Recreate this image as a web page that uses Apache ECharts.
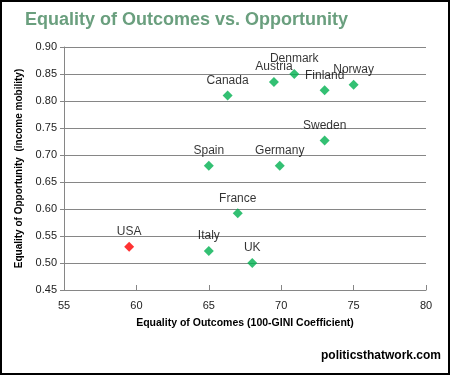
<!DOCTYPE html>
<html>
<head>
<meta charset="utf-8">
<script src="https://cdn.jsdelivr.net/npm/echarts@6/dist/echarts.min.js"></script>
<style>
  html, body { margin: 0; padding: 0; background: #fff; }
  #chart { width: 450px; height: 375px; }
</style>
</head>
<body>
<div id="chart"></div>
<script>
  // country, equality of outcomes (100-GINI), equality of opportunity
  const countries = ['Canada', 'Austria', 'Denmark', 'Finland', 'Norway', 'Sweden',
                     'Spain', 'Germany', 'France', 'Italy', 'UK']
  const outcomes = [66.3, 69.5, 70.9, 73, 75, 73, 65, 69.9, 67, 65, 68]
  const opportunity = [0.81, 0.835, 0.85, 0.82, 0.83, 0.727, 0.68, 0.68, 0.592, 0.522, 0.50]
  const usa = { name: 'USA', x: 59.5, y: 0.53 }

  const chart = echarts.init(document.getElementById('chart'))
  const font = 'Liberation Sans, Arial, sans-serif'
  const gridColor = '#868686'

  const option = {
    animation: false,
    title: {
      text: 'Equality of Outcomes vs. Opportunity',
      left: 20,
      top: 6,
      textStyle: { color: '#6a9f7e', fontSize: 18, fontWeight: 'bold', fontFamily: font }
    },
    graphic: [
      {
        type: 'rect',
        shape: { x: 1, y: 1, width: 448, height: 373 },
        style: { fill: 'none', stroke: '#000', lineWidth: 2 }
      },
      {
        type: 'text',
        right: 9,
        top: 350,
        style: { text: 'politicsthatwork.com', fill: '#000', font: 'bold 12px ' + font }
      }
    ],
    grid: { left: 64, right: 24, top: 47, bottom: 85 },
    xAxis: {
      type: 'value',
      min: 55, max: 80, interval: 5,
      name: 'Equality of Outcomes (100-GINI Coefficient)',
      nameLocation: 'middle',
      nameGap: 28,
      nameTextStyle: { color: '#000', fontSize: 10.5, fontWeight: 'bold', fontFamily: font },
      axisLine: { lineStyle: { color: gridColor } },
      axisTick: { inside: true, length: 5, lineStyle: { color: gridColor } },
      axisLabel: { color: '#222', fontSize: 11, fontFamily: font, margin: 10 },
      splitLine: { show: false }
    },
    yAxis: {
      type: 'value',
      min: 0.45, max: 0.90, interval: 0.05,
      name: 'Equality of Opportunity  (income mobility)',
      nameLocation: 'middle',
      nameGap: 32,
      nameTextStyle: { color: '#000', fontSize: 10, fontWeight: 'bold', fontFamily: font },
      axisLine: { show: true, lineStyle: { color: gridColor } },
      axisTick: { show: true, length: 4, lineStyle: { color: gridColor } },
      axisLabel: { color: '#222', fontSize: 11, fontFamily: font, margin: 7,
                   formatter: v => v.toFixed(2) },
      splitLine: { lineStyle: { color: gridColor } }
    },
    series: [
      {
        type: 'scatter',
        symbol: 'diamond',
        symbolSize: 10,
        itemStyle: { color: '#00b050' },
        label: {
          show: true, position: 'top', distance: 4,
          formatter: p => p.data[2],
          color: '#000', fontSize: 12, fontFamily: font
        },
        data: countries.map((c, i) => [outcomes[i], opportunity[i], c])
      },
      {
        type: 'scatter',
        symbol: 'diamond',
        symbolSize: 10,
        itemStyle: { color: '#ff0000' },
        label: {
          show: true, position: 'top', distance: 4,
          formatter: p => p.data[2],
          color: '#000', fontSize: 12, fontFamily: font
        },
        data: [[usa.x, usa.y, usa.name]]
      }
    ]
  }

  chart.setOption(option)
</script>
</body>
</html>
